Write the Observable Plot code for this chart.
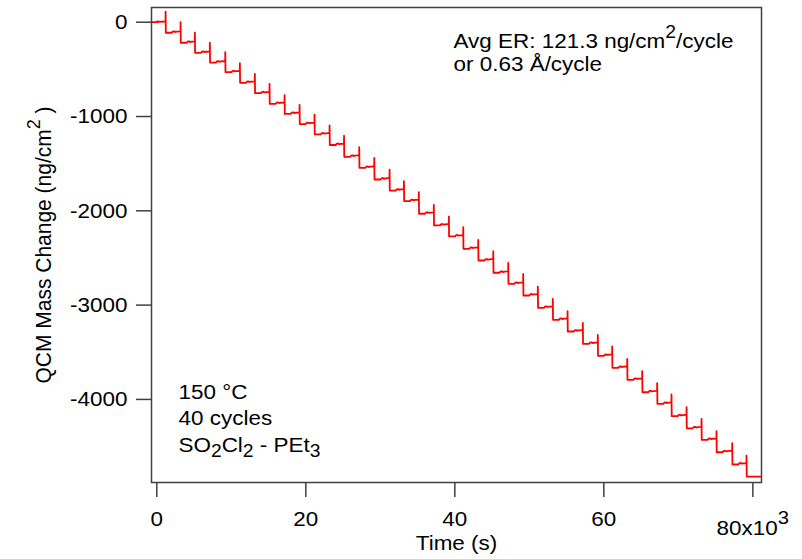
<!DOCTYPE html>
<html><head><meta charset="utf-8">
<script src="https://cdn.jsdelivr.net/npm/d3@7"></script>
<script src="https://cdn.jsdelivr.net/npm/@observablehq/plot@0.6"></script>
<style>body{margin:0;background:#fff} svg{display:block}</style>
</head><body><div id="chart"></div>
<script>
// ---- data ----
const spikeTimes = [1170, 3180, 5100, 7110, 9180, 11140, 13150, 15120, 17140, 19150,
  21160, 23180, 25120, 27160, 29180, 31230, 33160, 35160, 37170, 39190,
  41120, 43130, 45150, 47160, 49170, 51130, 53140, 55120, 57170, 59180,
  61110, 63130, 65140, 67150, 69070, 71090, 73100, 75110, 77220, 79140];
const levels = [0, -112, -218, -325, -428, -530, -643, -753, -866, -972,
  -1080, -1190, -1302, -1427, -1544, -1668, -1785, -1897, -2031, -2155,
  -2272, -2403, -2527, -2657, -2774, -2898, -3029, -3156, -3280, -3411,
  -3538, -3665, -3792, -3924, -4047, -4178, -4306, -4429, -4560, -4690, -4818];
const spikeRise = [113, 112, 106, 107, 110, 95, 96, 100, 93, 96,
  99, 95, 99, 103, 104, 105, 99, 95, 95, 94,
  100, 95, 98, 105, 105, 94, 96, 91, 92, 96,
  99, 95, 91, 96, 99, 95, 100, 92, 96, 95];
const humpOffsets = [850, 950, 1150, 1300, 1500, 1900];
const humpDeltas = [0, 12, 16, 8, 12, 14];
const startTimes = [-700, 30, 100, 200, 1000];
const startValues = [0, 0, 10, 5, 6];
const endTime = 81100;

const xTicks = [0, 20000, 40000, 60000, 80000];
const xTickLabels = ["0", "20", "40", "60", "80x10"];
const yTicks = [0, -1000, -2000, -3000, -4000];
const yTickLabels = ["0", "-1000", "-2000", "-3000", "-4000"];

const yTitle = "QCM Mass Change (ng/cm2)";
const xTitle = "Time (s)";
const noteTop = ["Avg ER: 121.3 ng/cm2/cycle", "or 0.63 Å/cycle"];
const noteBottom = ["150 °C", "40 cycles", "SO2Cl2 - PEt3"];

// ---- build the trace ----
const pts = [];
startTimes.forEach((t, i) => pts.push({t, v: startValues[i]}));
for (let k = 0; k < spikeTimes.length; k++) {
  const t0 = spikeTimes[k];
  const pre = pts[pts.length - 1].v;
  pts.push({t: t0, v: pre});
  pts.push({t: t0 + 10, v: levels[k] + spikeRise[k]});
  pts.push({t: t0 + 40, v: levels[k + 1]});
  if (k < spikeTimes.length - 1)
    humpOffsets.forEach((o, i) => pts.push({t: t0 + o, v: levels[k + 1] + humpDeltas[i]}));
}
pts.push({t: endTime, v: levels[levels.length - 1]});

const FS = 21;
const txt = (arr, opts) => Plot.text(arr, {text: d => d, fontSize: FS, fill: "#000", lineAnchor: "middle", ...opts});
const plot = Plot.plot({
  width: 802, height: 559,
  marginTop: 7, marginRight: 41, marginBottom: 77, marginLeft: 151,
  style: {fontFamily: "'Liberation Sans', Arial, Helvetica, sans-serif", fontSize: FS + "px", background: "#fff", color: "#000"},
  x: {domain: [-711, 81160], axis: null},
  y: {domain: [-4881, 156], axis: null},
  marks: [
    Plot.line(pts, {x: "t", y: "v", stroke: "#ff0000", strokeWidth: 1.8}),
    Plot.frame({stroke: "#404040", strokeWidth: 1.5}),
    Plot.axisX(xTicks, {tickSize: 15, tickPadding: 14, stroke: "#404040", strokeWidth: 1.5, fill: "#000", fontSize: FS, label: null,
      tickFormat: d => xTickLabels[xTicks.indexOf(d)]}),
    Plot.axisY(yTicks, {tickSize: 15, tickPadding: 9, stroke: "#404040", strokeWidth: 1.5, fill: "#000", fontSize: FS, label: null,
      tickFormat: d => yTickLabels[yTicks.indexOf(d)]}),
    txt([yTitle], {frameAnchor: "left", dx: -108, rotate: -90, textAnchor: "middle"}),
    txt([xTitle], {frameAnchor: "bottom", dy: 61, textAnchor: "middle"}),
    txt([noteTop[0]], {frameAnchor: "top-left", dx: 302, dy: 34, textAnchor: "start"}),
    txt([noteTop[1]], {frameAnchor: "top-left", dx: 302, dy: 57, textAnchor: "start"}),
    txt([noteBottom[0]], {frameAnchor: "top-left", dx: 27, dy: 385, textAnchor: "start"}),
    txt([noteBottom[1]], {frameAnchor: "top-left", dx: 27, dy: 411, textAnchor: "start"}),
    txt([noteBottom[2]], {frameAnchor: "top-left", dx: 27, dy: 438, textAnchor: "start"})
  ]
});
document.getElementById("chart").appendChild(plot);

// ---- rich text: superscripts / subscripts as tspans ----
const NS = "http://www.w3.org/2000/svg";
function rich(el, parts) {
  while (el.firstChild) el.removeChild(el.firstChild);
  for (const p of parts) {
    const ts = document.createElementNS(NS, "tspan");
    if (p.dy) ts.setAttribute("dy", p.dy);
    if (p.size) ts.setAttribute("font-size", p.size);
    ts.textContent = p.t;
    el.appendChild(ts);
  }
}
const SUP = 18, SUB = 18;
plot.querySelectorAll("text").forEach(el => {
  const s = el.textContent;
  if (s === yTitle) rich(el, [{t: "QCM Mass Change (ng/cm"}, {t: "2", size: SUP, dy: -10}, {t: " )", dy: 10}]);
  else if (s === noteTop[0]) rich(el, [{t: "Avg ER: 121.3 ng/cm"}, {t: "2", size: SUP, dy: -10}, {t: "/cycle", dy: 10}]);
  else if (s === noteBottom[2]) rich(el, [{t: "SO"}, {t: "2", size: SUB, dy: 5}, {t: "Cl", dy: -5}, {t: "2", size: SUB, dy: 5}, {t: " - PEt", dy: -5}, {t: "3", size: SUB, dy: 5}]);
  else if (s === "80x10") rich(el, [{t: "80x10", dy: 9}, {t: "3", size: 19, dy: -11}]);
});
// the reference lettering is slightly wider than the font: stretch each text
// horizontally about its own anchor, via a wrapping group
const SX = 1.07;
Array.from(plot.querySelectorAll("text")).forEach(el => {
  const anchor = getComputedStyle(el).textAnchor;
  const g = document.createElementNS(NS, "g");
  el.parentNode.insertBefore(g, el);
  g.appendChild(el);
  const bb = g.getBBox();
  const px = anchor === "start" ? bb.x : anchor === "end" ? bb.x + bb.width : bb.x + bb.width / 2;
  g.setAttribute("transform", `translate(${px},0) scale(${SX},1) translate(${-px},0)`);
});
</script></body></html>
